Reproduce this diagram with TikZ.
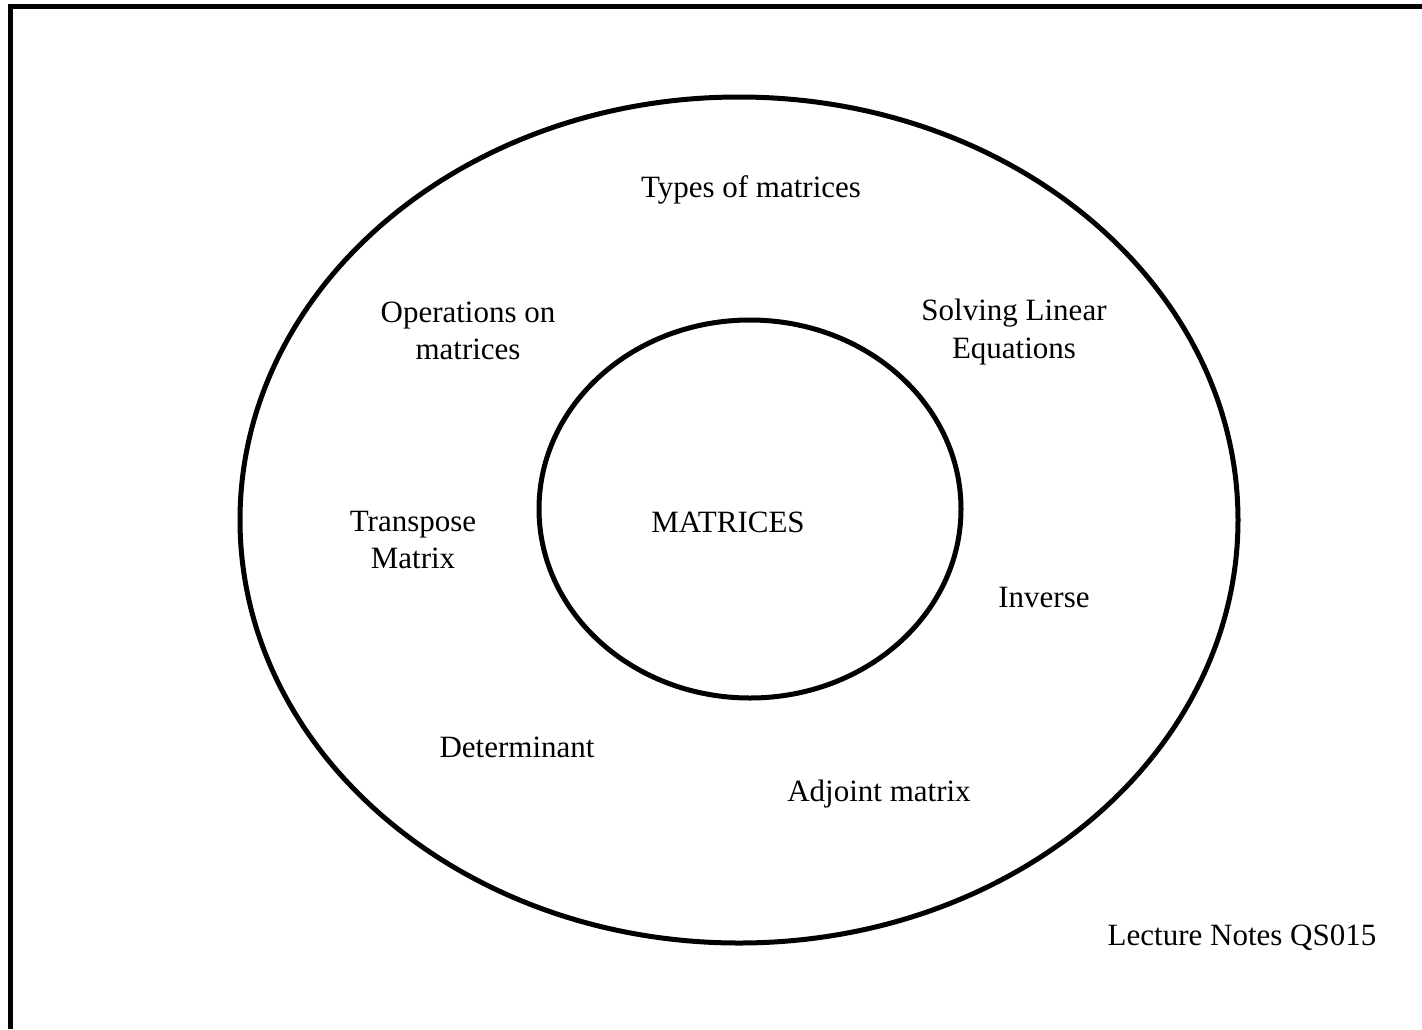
\documentclass[tikz,border=0pt]{standalone}
\usepackage{fontspec}
\setmainfont{Liberation Serif}
\begin{document}
\begin{tikzpicture}[x=1pt,y=-1pt,
  lbl/.style={font=\fontsize{31}{37.5}\selectfont, align=center, inner sep=0pt},
  ring/.style={line width=5pt}]
\useasboundingbox (0,0) rectangle (1422,1029);
\draw[line width=5pt] (10.5,1029) -- (10.5,6) -- (1422,6);
\draw[ring] (739,520) ellipse [x radius=499, y radius=423];
\draw[ring] (750,509) ellipse [x radius=211, y radius=189];
\node[lbl] (core) at (728,522) {MATRICES};
\node[lbl] (types) at (751,190) {Types of matrices};
\node[lbl] (ops) at (468,331) {Operations on\\matrices};
\node[lbl] (solve) at (1014,332) {Solving Linear\\Equations};
\node[lbl] (trans) at (413,540) {Transpose\\Matrix};
\node[lbl] (inv) at (1044,597) {Inverse};
\node[lbl] (det) at (517,747) {Determinant};
\node[lbl] (adj) at (879,794) {Adjoint matrix};
\node[lbl] (notes) at (1242,938) {Lecture Notes QS015};
\end{tikzpicture}
\end{document}
